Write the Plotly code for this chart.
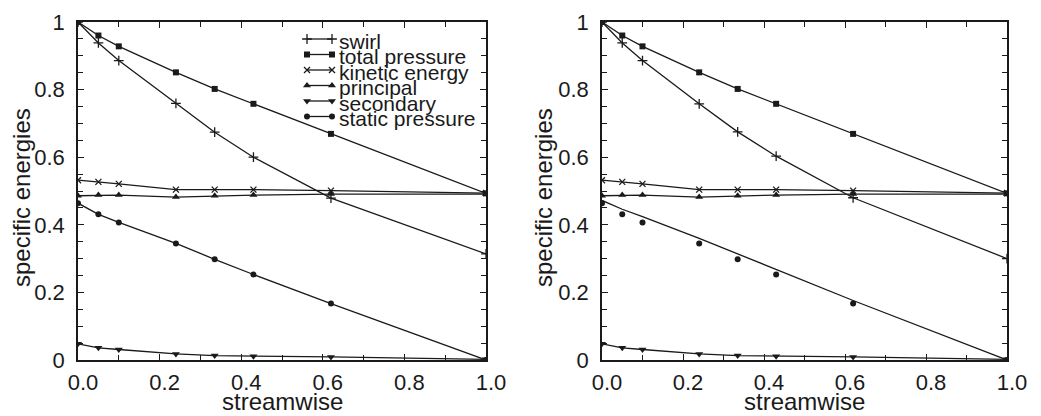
import plotly.graph_objects as go

# Streamwise stations
streamwise = [0.0, 0.05, 0.1, 0.24, 0.335, 0.43, 0.62, 1.0]

# Specific energies at each station
swirl_left = [1.0, 0.938, 0.886, 0.759, 0.674, 0.600, 0.479, 0.314]
swirl_right = [1.0, 0.938, 0.886, 0.758, 0.675, 0.603, 0.480, 0.300]
total_pressure = [1.0, 0.960, 0.928, 0.851, 0.802, 0.758, 0.669, 0.493]
kinetic_energy = [0.532, 0.527, 0.521, 0.504, 0.504, 0.504, 0.501, 0.494]
principal = [0.486, 0.488, 0.488, 0.482, 0.486, 0.488, 0.491, 0.491]
secondary = [0.048, 0.036, 0.031, 0.018, 0.013, 0.011, 0.009, 0.002]
static_pressure = [0.464, 0.431, 0.407, 0.345, 0.298, 0.253, 0.167, 0.0]
# model curve for static pressure in the right panel
static_pressure_model = [0.472, 0.446, 0.424, 0.360, 0.314, 0.268, 0.176, 0.0]

x_ticks = [0.0, 0.2, 0.4, 0.6, 0.8, 1.0]
y_ticks = [0, 0.2, 0.4, 0.6, 0.8, 1]
y_tick_text = ["0", "0.2", "0.4", "0.6", "0.8", "1"]

series_names = ["swirl", "total pressure", "kinetic energy", "principal",
                "secondary", "static pressure"]

FONT = "Liberation Sans, Arial, Helvetica, sans-serif"
INK = "#1a1a1a"
W, H = 1041, 416

markers = {
    "swirl": dict(symbol="cross-thin", size=7, line=dict(width=1.3, color=INK)),
    "total pressure": dict(symbol="square", size=6, color=INK),
    "kinetic energy": dict(symbol="x-thin", size=6, line=dict(width=1.3, color=INK)),
    "principal": dict(symbol="triangle-up", size=7, color=INK),
    "secondary": dict(symbol="triangle-down", size=7, color=INK),
    "static pressure": dict(symbol="circle", size=6, color=INK),
}

left_data = {
    "swirl": swirl_left,
    "total pressure": total_pressure,
    "kinetic energy": kinetic_energy,
    "principal": principal,
    "secondary": secondary,
    "static pressure": static_pressure,
}
right_data = dict(left_data, swirl=swirl_right)
right_lines = dict(right_data, **{"static pressure": static_pressure_model})

fig = go.Figure()

line_style = dict(color=INK, width=1.3)

for name in series_names:
    fig.add_trace(go.Scatter(
        x=streamwise, y=left_data[name], mode="lines+markers",
        line=line_style, marker=markers[name], showlegend=False,
        xaxis="x", yaxis="y"))

for name in series_names:
    fig.add_trace(go.Scatter(
        x=streamwise, y=right_lines[name], mode="lines",
        line=line_style, showlegend=False, xaxis="x2", yaxis="y2"))
    fig.add_trace(go.Scatter(
        x=streamwise, y=right_data[name], mode="markers",
        marker=markers[name], showlegend=False, xaxis="x2", yaxis="y2"))

# Legend drawn inside the left panel on a pixel-coordinate overlay axis
leg_x0, leg_x1, leg_text_x = 307, 332, 337
leg_top, leg_step = 39, 15.5
annotations = []
for i, name in enumerate(series_names):
    yy = leg_top + i * leg_step
    fig.add_trace(go.Scatter(
        x=[leg_x0, leg_x1], y=[yy, yy], mode="lines+markers",
        line=line_style, marker=markers[name], showlegend=False,
        xaxis="x3", yaxis="y3", hoverinfo="skip"))
    annotations.append(dict(
        x=leg_text_x, y=yy + 2, xref="x3", yref="y3", text=name,
        showarrow=False, xanchor="left", yanchor="middle",
        font=dict(family=FONT, size=21, color=INK)))


def px_x(p):
    return p / W


def px_y(p):
    return (H - p) / H


common_axis = dict(
    showline=True, linecolor=INK, linewidth=1.5, mirror="ticks",
    ticks="inside", ticklen=6, tickwidth=1.3, tickcolor=INK,
    showgrid=False, zeroline=False, automargin=False,
    tickfont=dict(family=FONT, size=22, color=INK),
)

x_axis = dict(common_axis, range=[0, 1], tickvals=x_ticks, tickformat=".1f",
              ticklabelstandoff=2, ticklabelshift=5,
              minor=dict(dtick=0.1, tick0=0, ticks="inside", ticklen=5,
                         tickwidth=1.2, tickcolor=INK, showgrid=False))
y_axis = dict(common_axis, range=[0, 1], tickvals=y_ticks, ticktext=y_tick_text,
              ticklabelstandoff=7,
              minor=dict(dtick=0.05, tick0=0, ticks="inside", ticklen=5,
                         tickwidth=1.2, tickcolor=INK, showgrid=False))

left_dom = [px_x(78), px_x(486)]
right_dom = [px_x(602), px_x(1007)]
y_dom = [px_y(360), px_y(22)]

# Axis titles
for dom in (left_dom, right_dom):
    annotations.append(dict(
        x=(dom[0] + dom[1]) / 2, y=0, xref="paper", yref="paper",
        text="streamwise", showarrow=False, xanchor="center", yanchor="bottom",
        borderpad=0, font=dict(family=FONT, size=24, color=INK)))
for cx in (21, 543):
    annotations.append(dict(
        x=px_x(cx), y=px_y(198), xref="paper", yref="paper",
        text="specific energies", showarrow=False, textangle=-90,
        xanchor="center", yanchor="middle",
        font=dict(family=FONT, size=24, color=INK)))

fig.update_layout(
    width=W, height=H,
    margin=dict(l=0, r=0, t=0, b=0, autoexpand=False),
    paper_bgcolor="white", plot_bgcolor="rgba(0,0,0,0)",
    xaxis=dict(x_axis, domain=left_dom, anchor="y"),
    yaxis=dict(y_axis, domain=y_dom, anchor="x"),
    xaxis2=dict(x_axis, domain=right_dom, anchor="y2"),
    yaxis2=dict(y_axis, domain=y_dom, anchor="x2"),
    xaxis3=dict(domain=[0, 1], range=[0, W], visible=False, anchor="y3",
                automargin=False),
    yaxis3=dict(domain=[0, 1], range=[H, 0], visible=False, anchor="x3",
                automargin=False),
    annotations=annotations,
    showlegend=False,
    font=dict(family=FONT, color=INK),
)

fig.write_html("out.html")
